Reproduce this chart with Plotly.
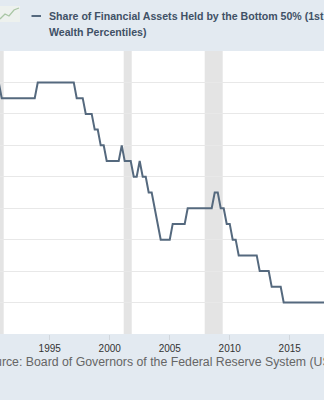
import plotly.graph_objects as go
import pandas as pd

start_quarter = "1990-07-01"
values = (
    [3.8, 3.8]                      # 1990Q3-Q4
    + [3.7] * 12                    # 1991Q1-1993Q4
    + [3.8] * 13                    # 1994Q1-1997Q1
    + [3.7] * 3                     # 1997Q2-Q4
    + [3.6] * 3                     # 1998Q1-Q3
    + [3.5] * 2                     # 1998Q4-1999Q1
    + [3.4] * 2                     # 1999Q2-Q3
    + [3.3] * 5                     # 1999Q4-2000Q4
    + [3.4]                         # 2001Q1
    + [3.3] * 3                     # 2001Q2-Q4
    + [3.2] * 2                     # 2002Q1-Q2
    + [3.3]                         # 2002Q3
    + [3.2] * 2                     # 2002Q4-2003Q1
    + [3.1] * 2                     # 2003Q2-Q3
    + [3.0]                         # 2003Q4
    + [2.9]                         # 2004Q1
    + [2.8] * 4                     # 2004Q2-2005Q1
    + [2.9] * 5                     # 2005Q2-2006Q2
    + [3.0] * 9                     # 2006Q3-2008Q3
    + [3.1] * 2                     # 2008Q4-2009Q1
    + [3.0] * 2                     # 2009Q2-Q3
    + [2.9] * 2                     # 2009Q4-2010Q1
    + [2.8] * 2                     # 2010Q2-Q3
    + [2.7] * 7                     # 2010Q4-2012Q2
    + [2.6] * 4                     # 2012Q3-2013Q2
    + [2.5] * 4                     # 2013Q3-2014Q2
    + [2.4] * 15                    # 2014Q3-2018Q1
)
dates = pd.date_range(start_quarter, periods=len(values), freq="QS")

recession_starts = ["1990-07-01", "2001-03-01", "2007-12-01"]
recession_ends = ["1991-03-01", "2001-11-01", "2009-06-01"]

x_tick_labels = ["1995", "2000", "2005", "2010", "2015"]
x_tick_vals = [f"{y}-01-01" for y in x_tick_labels]

series_name_line1 = "Share of Financial Assets Held by the Bottom 50% (1st to 50th"
series_name_line2 = "Wealth Percentiles)"
source_text = "Source: Board of Governors of the Federal Reserve System (US)"

W, H = 324, 400
TOP, BOTTOM = 51, 334
LINE_COLOR = "#55697e"
BG = "#e3eaf1"


def px_x(px):
    return px / W


def px_y(py):
    return (BOTTOM - py) / (BOTTOM - TOP)


fig = go.Figure()
fig.add_trace(go.Scatter(
    x=dates, y=values, mode="lines",
    line=dict(color=LINE_COLOR, width=2),
    name=series_name_line1 + " " + series_name_line2,
    showlegend=False,
    hoverinfo="x+y",
))

shapes = []
for s, e in zip(recession_starts, recession_ends):
    shapes.append(dict(type="rect", xref="x", yref="paper", x0=s, x1=e, y0=0, y1=1,
                       fillcolor="#e4e4e4", line=dict(width=0), layer="between"))

# legend dash
shapes.append(dict(type="line", xref="paper", yref="paper",
                   x0=px_x(31.5), x1=px_x(41), y0=px_y(16), y1=px_y(16),
                   line=dict(color=LINE_COLOR, width=2)))
# small chart icon (partly cropped)
shapes.append(dict(type="rect", xref="paper", yref="paper",
                   x0=px_x(-4), x1=px_x(20), y0=px_y(22), y1=px_y(6),
                   fillcolor="#edf1ee", line=dict(width=0)))
shapes.append(dict(type="path", xref="paper", yref="paper",
                   path=(f"M {px_x(0)} {px_y(19)} L {px_x(5)} {px_y(14)} L {px_x(9)} {px_y(16)} "
                         f"L {px_x(14)} {px_y(10)} L {px_x(19)} {px_y(8)}"),
                   line=dict(color="#a9c6a4", width=1.3)))

annotations = [
    dict(text=series_name_line1, xref="paper", yref="paper", x=px_x(47), y=px_y(16),
         xanchor="left", yanchor="middle", showarrow=False,
         font=dict(family="Liberation Sans, Arial", size=10.6, color="#3f5166", weight="bold")),
    dict(text=series_name_line2, xref="paper", yref="paper", x=px_x(47), y=px_y(32.5),
         xanchor="left", yanchor="middle", showarrow=False,
         font=dict(family="Liberation Sans, Arial", size=10.6, color="#3f5166", weight="bold")),
    dict(text=source_text, xref="paper", yref="paper", x=px_x(-22), y=px_y(362),
         xanchor="left", yanchor="middle", showarrow=False,
         font=dict(family="Liberation Sans, Arial", size=12.3, color="#666666")),
]

fig.update_layout(
    width=W, height=H,
    margin=dict(l=0, r=0, t=TOP, b=H - BOTTOM, pad=0),
    paper_bgcolor=BG, plot_bgcolor="#ffffff",
    shapes=shapes, annotations=annotations,
    showlegend=False,
    xaxis=dict(
        type="date",
        range=["1990-11-09", "2017-11-09"],
        tickvals=x_tick_vals, ticktext=x_tick_labels,
        showgrid=False, zeroline=False,
        ticks="outside", ticklen=5, tickcolor="#d0d6dc", tickwidth=1,
        tickfont=dict(family="Liberation Sans, Arial", size=10, color="#333333"),
        showline=False, fixedrange=True,
    ),
    yaxis=dict(
        range=[2.2, 4.0], dtick=0.2, tick0=2.2,
        showgrid=True, gridcolor="#e8e8e8", gridwidth=1,
        zeroline=False, showticklabels=False, ticks="",
        fixedrange=True,
    ),
)

fig.write_html("out.html")
